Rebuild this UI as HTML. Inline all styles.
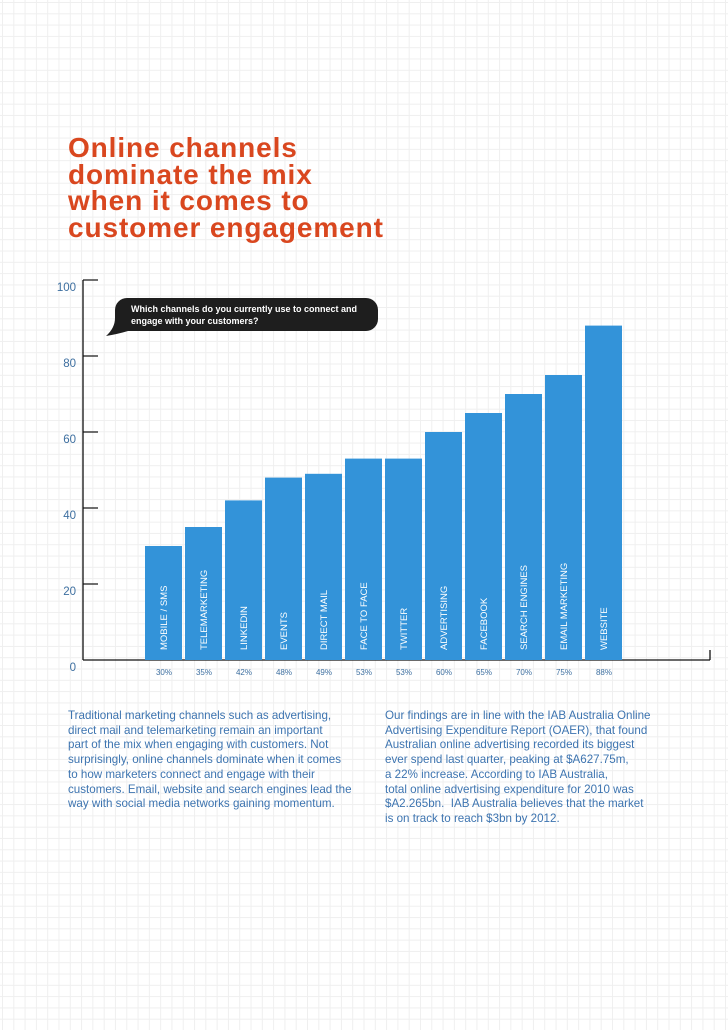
<!DOCTYPE html>
<html><head><meta charset="utf-8"><style>
body{margin:0;width:728px;height:1030px;position:relative;overflow:hidden;background:#fff;
background-image:linear-gradient(#efefef 1px,transparent 1px),linear-gradient(90deg,#efefef 1px,transparent 1px);background-size:11.3px 11.3px;background-position:2px 2px;font-family:"Liberation Sans",sans-serif}
.title{position:absolute;left:68px;top:135px;color:#d9471f;font-weight:bold;font-size:28px;line-height:26.5px;letter-spacing:0.9px}
.para{position:absolute;top:709px;font-size:11.6px;line-height:14.7px;color:#3d74b0;white-space:pre}
</style></head><body>
<div class="title">Online channels<br>dominate the mix<br>when it comes to<br>customer engagement</div>
<svg id="chart" width="728" height="700" style="position:absolute;left:0;top:0"></svg>
<div class="para" style="left:68px">Traditional marketing channels such as advertising,
direct mail and telemarketing remain an important
part of the mix when engaging with customers. Not
surprisingly, online channels dominate when it comes
to how marketers connect and engage with their
customers. Email, website and search engines lead the
way with social media networks gaining momentum.</div>
<div class="para" style="left:385px">Our findings are in line with the IAB Australia Online
Advertising Expenditure Report (OAER), that found
Australian online advertising recorded its biggest
ever spend last quarter, peaking at $A627.75m,
a 22% increase. According to IAB Australia,
total online advertising expenditure for 2010 was
$A2.265bn.  IAB Australia believes that the market
is on track to reach $3bn by 2012.</div>
<script>
const categories=["MOBILE / SMS","TELEMARKETING","LINKEDIN","EVENTS","DIRECT MAIL","FACE TO FACE","TWITTER","ADVERTISING","FACEBOOK","SEARCH ENGINES","EMAIL MARKETING","WEBSITE"];
const values=[30,35,42,48,49,53,53,60,65,70,75,88];
const valueLabels=["30%","35%","42%","48%","49%","53%","53%","60%","65%","70%","75%","88%"];
const yTicks=[0,20,40,60,80,100];
const NS="http://www.w3.org/2000/svg";
const svg=document.getElementById('chart');
const y=v=>660-v*3.8;
const x=i=>145+i*40;
function mk(t,a){const e=document.createElementNS(NS,t);for(const k in a)e.setAttribute(k,a[k]);svg.appendChild(e);return e;}
let e;
e=mk('line',{x1:83,y1:280,x2:83,y2:660,stroke:'#111','stroke-width':1.3});


e=mk('line',{x1:83,y1:660,x2:710,y2:660,stroke:'#111','stroke-width':1.3});


e=mk('line',{x1:710,y1:650,x2:710,y2:660,stroke:'#111','stroke-width':1.3});


yTicks.forEach(t=>{
  if(t>0){e=mk('line',{x1:83,y1:y(t),x2:98,y2:y(t),stroke:'#111','stroke-width':1.2});
  
  }
  e=mk('text',{x:76,y:y(t)+11,'text-anchor':'end','font-size':11.5,fill:'#3d6fa0'});
  e.textContent=t;
  
  
});
values.forEach((v,i)=>{
  e=mk('rect',{x:x(i),y:y(v),width:37,height:660-y(v),fill:'#3393d9'});
  
  
  e=mk('text',{transform:`translate(${x(i)+22},650) rotate(-90)`,'font-size':9.5,fill:'#fff'});
  e.textContent=categories[i];
  
  
  e=mk('text',{x:x(i)+19,y:675,'text-anchor':'middle','font-size':8,fill:'#3d6fa0'});
  e.textContent=valueLabels[i];
  
  
});
e=mk('path',{d:'M127,298 H366 a12,12 0 0 1 12,12 V319 a12,12 0 0 1 -12,12 H128 Q118,334 106,336 Q115,328 115,318 V310 a12,12 0 0 1 12,-12 Z',fill:'#1e1e1e'});


e=mk('text',{x:131,y:312,'font-size':9,fill:'#fff','font-weight':'bold'});
e.textContent='Which channels do you currently use to connect and';


e=mk('text',{x:131,y:324,'font-size':9,fill:'#fff','font-weight':'bold'});
e.textContent='engage with your customers?';


</script>
</body></html>
